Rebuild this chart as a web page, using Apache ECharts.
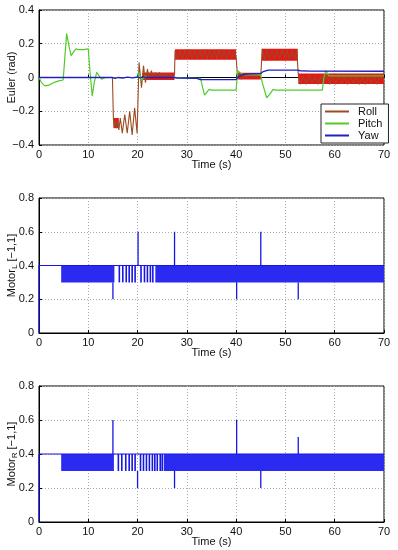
<!DOCTYPE html>
<html><head><meta charset="utf-8">
<script src="https://cdn.jsdelivr.net/npm/echarts@6/dist/echarts.min.js"></script>
<style>html,body{margin:0;padding:0;background:#fff}#c{width:398px;height:550px}</style>
</head><body><div id="c"></div>
<script>
// ---------- data ----------
const xTicks = [0,10,20,30,40,50,60,70];
const eulerTicks = [-0.4,-0.2,0,0.2,0.4];
const motorTicks = [0,0.2,0.4,0.6,0.8];

const roll = [[0,0],[14.9,0],[15.1,-0.25],[15.3,-0.29],[15.5,-0.25],[15.7,-0.3],[15.9,-0.26],[16.2,-0.31],[16.5,-0.24],[16.9,-0.33],[17.4,-0.22],[17.9,-0.33],[18.4,-0.2],[18.9,-0.34],[19.4,-0.18],[19.9,-0.33],[20.3,0.09],[20.8,-0.06],[21.2,0.07],[21.6,-0.03],[22.0,0.05],[22.4,-0.01],[22.8,0.04],[23.2,0.0],[23.6,0.03],[24.0,-0.005],[24.4,0.03],[24.8,0.0],[25.2,0.025],[25.6,0.0],[26.0,0.025],[26.4,-0.005],[26.8,0.02],[27.2,0.0],[27.5,0.02],
[27.6,0.16],[28.1,0.11],[28.6,0.16],[29.1,0.115],[29.6,0.16],[30.1,0.11],[30.6,0.165],[31.1,0.115],[31.6,0.16],[32.1,0.11],[32.6,0.16],[33.1,0.115],[33.6,0.165],[34.1,0.11],[34.6,0.16],[35.1,0.115],[35.6,0.16],[36.1,0.11],[36.6,0.165],[37.1,0.115],[37.6,0.16],[38.1,0.11],[38.6,0.16],[39.1,0.115],[39.6,0.16],[40.0,0.12],
[40.3,0.0],[40.6,0.03],[41.0,-0.01],[41.5,0.02],[42,0.0],[42.5,0.015],[43,0.005],[43.5,0.015],[44,0.005],[44.5,0.015],[45,0.01],
[45.3,0.17],[45.8,0.1],[46.3,0.165],[46.8,0.11],[47.3,0.16],[47.8,0.115],[48.3,0.16],[48.8,0.11],[49.3,0.165],[49.8,0.115],[50.3,0.16],[50.8,0.11],[51.3,0.16],[51.8,0.115],[52.3,0.165],[52.6,0.02],
[53.0,-0.04],[53.6,0.01],[54.2,-0.04],[54.8,0.015],[55.4,-0.035],[56.0,0.01],[56.6,-0.04],[57.2,0.01],[57.8,-0.035],[58.4,0.02],[59.0,-0.04],[59.6,0.01],[60.2,-0.04],[60.8,0.015],[61.4,-0.035],[62.0,0.01],[62.6,-0.04],[63.2,0.01],[63.8,-0.035],[64.4,0.015],[65.0,-0.04],[65.6,0.01],[66.2,-0.04],[66.8,0.01],[67.4,-0.035],[68.0,0.015],[68.6,-0.04],[69.2,0.01],[70,-0.02]];

// envelope of the fast roll oscillation: [t0, t1, low, high]
const rollBands = [[15.1,16.2,-0.30,-0.24],[21.0,27.5,-0.015,0.03],[27.6,40.0,0.105,0.168],[40.4,45.0,-0.012,0.028],[45.2,52.5,0.10,0.17],[52.6,70,-0.038,0.024]];

const pitch = [[0,0],[0.5,-0.03],[1.2,-0.05],[2,-0.045],[3,-0.03],[4,-0.02],[4.9,-0.015],[5.2,0.1],[5.6,0.26],[6.0,0.2],[6.5,0.13],[7,0.15],[7.5,0.17],[8,0.165],[9,0.165],[10,0.17],[10.3,0.05],[10.8,-0.11],[11.2,-0.03],[11.7,0.03],[12.2,0.01],[12.7,-0.01],[13.5,0],[20,0],[20.3,0.03],[20.8,-0.02],[21.5,0.01],[22,0],[27.5,0],[32.8,-0.005],[33.2,-0.06],[33.6,-0.105],[34,-0.09],[34.5,-0.07],[35,-0.075],[40,-0.075],[40.3,0.04],[40.7,0.05],[41.2,0.02],[42,0.015],[45,0.015],[45.3,-0.03],[46.2,-0.12],[46.8,-0.1],[47.5,-0.07],[48,-0.075],[57.5,-0.075],[57.8,0.0],[58.2,0.04],[58.8,0.01],[59.5,0.01],[70,0.01]];

const yaw = [[0,0],[14.8,0],[15.1,-0.01],[15.5,-0.005],[16,0],[17,-0.003],[18,0.002],[19,-0.002],[20,0.003],[20.5,-0.003],[21,0.004],[22,0],[27.5,0],[28,-0.003],[32,-0.005],[32.7,-0.012],[33.5,-0.012],[40,-0.012],[40.5,0.005],[41.5,0.018],[43,0.022],[45,0.024],[45.5,0.035],[46.5,0.044],[52.5,0.044],[53,0.04],[55,0.038],[70,0.037]];

// motor commands
const motorBase = [[0,0],[0,0.4],[70,0.4]];
const motorLBands = [[4.5,15.3],[23.6,70]];
const motorLPulses = [16.3,17.0,17.7,18.3,18.9,19.5,20.7,21.4,22.0,22.6,23.1];
const motorLSpikes = [[15.0,0.2],[20.1,0.6],[27.5,0.6],[40.1,0.2],[45.0,0.6],[52.6,0.2]];
const motorRBands = [[4.5,15.2],[25.3,70]];
const motorRPulses = [16.1,16.8,17.6,18.3,18.9,19.5,20.6,21.2,21.8,22.4,23.0,23.5,24.0,24.6,25.0];
const motorRSpikes = [[15.0,0.6],[20.0,0.2],[27.5,0.2],[40.1,0.6],[45.0,0.2],[52.6,0.5]];
const motorLow = 0.3, motorHigh = 0.4;

// ---------- styling ----------
const FONT = 'Liberation Sans';
const BLUE = '#1616e6';
const gridsPos = [{top:10,height:135},{top:198,height:135},{top:386,height:136}];

function fmt(v){ const r = Math.round(v*10)/10; return (r<0?'\u2212':'') + Math.abs(r); }

const grids = gridsPos.map(g => ({left:39, width:345, top:g.top, height:g.height, containLabel:false, outerBoundsMode:'none', show:true, borderColor:'#000', borderWidth:1, backgroundColor:'transparent'}));

const xAxes = [0,1,2].map(i => ({
  type:'value', gridIndex:i, min:0, max:70, interval:10,
  name:'Time (s)', nameLocation:'middle', nameGap:14, nameMoveOverlap:false,
  nameTextStyle:{fontFamily:FONT, fontSize:11, color:'#111'},
  axisLine:{show:true, lineStyle:{color:'#000', width:1}},
  axisTick:{inside:true, length:3, lineStyle:{color:'#000'}},
  axisLabel:{margin:4, fontFamily:FONT, fontSize:11, color:'#111'},
  splitLine:{show:true, lineStyle:{color:'#aaa', type:[1,2], width:1}}
}));

function yAxis(i, min, max, name, rich, gap){
  return {type:'value', gridIndex:i, min:min, max:max, interval:0.2,
    name:name, nameLocation:'middle', nameRotate:90, nameGap:gap, nameMoveOverlap:false,
    nameTextStyle:{fontFamily:FONT, fontSize:11, color:'#111', rich:rich},
    axisLine:{show:true, lineStyle:{color:'#000', width:1}},
    axisTick:{inside:true, length:3, lineStyle:{color:'#000'}},
    axisLabel:{margin:5, fontFamily:FONT, fontSize:11, color:'#111', formatter:fmt},
    splitLine:{show:true, lineStyle:{color:'#aaa', type:[1,2], width:1}}};
}
const subRich = {a:{fontFamily:FONT, fontSize:11, color:'#111'}, b:{fontFamily:FONT, fontSize:8, color:'#111', padding:[7,0,0,0]}};
const yAxes = [
  yAxis(0, eulerTicks[0], eulerTicks[eulerTicks.length-1], 'Euler (rad)', undefined, 22),
  yAxis(1, motorTicks[0], motorTicks[motorTicks.length-1], '{a|Motor}{b|L}{a| [\u22121,1]}', subRich, 20),
  yAxis(2, motorTicks[0], motorTicks[motorTicks.length-1], '{a|Motor}{b|R}{a| [\u22121,1]}', subRich, 20)
];

function bandSeries(idx, data, color){
  return {type:'custom', xAxisIndex:idx, yAxisIndex:idx, silent:true, clip:true,
    encode:{x:[0,1], y:[2,3]}, data:data,
    renderItem:function(params, api){
      const p0 = api.coord([api.value(0), api.value(3)]);
      const p1 = api.coord([api.value(1), api.value(2)]);
      return {type:'rect', shape:{x:p0[0], y:p0[1], width:p1[0]-p0[0], height:p1[1]-p0[1]}, style:{fill:color}};
    }};
}
function vlineSeries(idx, data, color, width){
  return {type:'custom', xAxisIndex:idx, yAxisIndex:idx, silent:true, clip:true,
    encode:{x:0, y:[1,2]}, data:data,
    renderItem:function(params, api){
      const p0 = api.coord([api.value(0), api.value(1)]);
      const p1 = api.coord([api.value(0), api.value(2)]);
      return {type:'line', shape:{x1:p0[0], y1:p0[1], x2:p1[0], y2:p1[1]}, style:{stroke:color, lineWidth:width}};
    }};
}
function lineSeries(idx, name, data, color, width, z){
  return {type:'line', name:name, xAxisIndex:idx, yAxisIndex:idx, data:data, showSymbol:false, symbol:'none',
    lineStyle:{color:color, width:width}, itemStyle:{color:color}, z:z||2, animation:false};
}

const series = [
  bandSeries(0, rollBands.map(b=>[b[0],b[1],b[2],b[3]]), '#e41818'),
  lineSeries(0, 'Roll', roll, '#9c4a22', 1.1, 3),
  lineSeries(0, 'Pitch', pitch, '#4fcc2a', 1.2, 4),
  lineSeries(0, 'Yaw', yaw, '#2020c0', 1.3, 5),
  // motor L
  bandSeries(1, motorLBands.map(b=>[b[0],b[1],motorLow,motorHigh]), '#2a2af0'),
  vlineSeries(1, motorLPulses.map(t=>[t,motorLow,motorHigh]), BLUE, 1.6),
  vlineSeries(1, motorLSpikes.map(s=>[s[0], s[1]>motorHigh?motorHigh:motorLow, s[1]]), BLUE, 1.3),
  lineSeries(1, 'ML', motorBase, BLUE, 1.2, 3),
  // motor R
  bandSeries(2, motorRBands.map(b=>[b[0],b[1],motorLow,motorHigh]), '#2a2af0'),
  vlineSeries(2, motorRPulses.map(t=>[t,motorLow,motorHigh]), BLUE, 1.6),
  vlineSeries(2, motorRSpikes.map(s=>[s[0], s[1]>motorHigh?motorHigh:motorLow, s[1]]), BLUE, 1.3),
  lineSeries(2, 'MR', motorBase, BLUE, 1.2, 3)
];

const chart = echarts.init(document.getElementById('c'), null, {renderer:'canvas'});
chart.setOption({
  animation:false,
  backgroundColor:'#fff',
  grid:grids, xAxis:xAxes, yAxis:yAxes,
  legend:{data:['Roll','Pitch','Yaw'], orient:'vertical', left:321, top:104, itemGap:1,
    itemWidth:24, itemHeight:2, icon:'rect', padding:[2,6,2,4],
    backgroundColor:'#fff', borderColor:'#222', borderWidth:1, borderRadius:0,
    textStyle:{fontFamily:FONT, fontSize:11, color:'#111', padding:[0,0,0,4]}, selectedMode:false},
  series:series
});
</script></body></html>
